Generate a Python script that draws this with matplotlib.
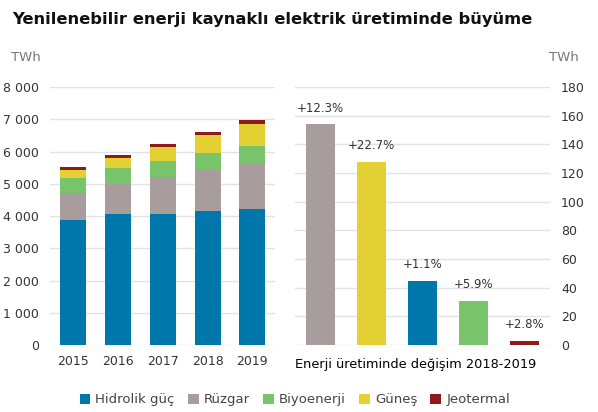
import matplotlib.pyplot as plt
from matplotlib.ticker import FuncFormatter
from matplotlib.patches import Patch

years = ['2015', '2016', '2017', '2018', '2019']
hydro = [3880, 4060, 4070, 4160, 4210]
wind = [820, 930, 1130, 1270, 1410]
bio = [490, 510, 510, 520, 550]
solar = [240, 300, 420, 570, 700]
geo = [80, 80, 90, 80, 100]

sources = ['Hidrolik güç', 'Rüzgar', 'Biyoenerji', 'Güneş', 'Jeotermal']
colors = ['#0077aa', '#a99c9d', '#78c46a', '#e3d033', '#8e1b1b']

# change 2018-2019, drawn in this order
change_order = ['Rüzgar', 'Güneş', 'Hidrolik güç', 'Biyoenerji', 'Jeotermal']
change_twh = [154, 128, 45, 31, 3]
change_pct = ['+12.3%', '+22.7%', '+1.1%', '+5.9%', '+2.8%']

plt.rcParams['font.family'] = ['DejaVu Sans']
text_col = '#333333'
grid_col = '#e3e3e3'

fig = plt.figure(figsize=(5.98, 4.12), dpi=100)

fig.text(0.02, 0.952, 'Yenilenebilir enerji kaynaklı elektrik üretiminde büyüme',
         fontsize=11.75, fontweight='bold', color='#111111', va='center')

# left: stacked bars
ax1 = fig.add_axes([0.0836, 0.1626, 0.376, 0.626])
series = [hydro, wind, bio, solar, geo]
x = range(len(years))
bottom = [0] * len(years)
for vals, col in zip(series, colors):
    ax1.bar(x, vals, 0.58, bottom=bottom, color=col, zorder=3)
    bottom = [b + v for b, v in zip(bottom, vals)]

ax1.set_ylim(0, 8000)
ax1.set_xlim(-0.51, 4.5)
ax1.set_yticks(range(0, 8001, 1000))
ax1.yaxis.set_major_formatter(FuncFormatter(
    lambda v, p: f'{int(v):,}'.replace(',', ' ')))
ax1.set_xticks(list(x))
ax1.set_xticklabels(years)
ax1.grid(axis='y', color=grid_col, linewidth=1, zorder=0)
for s in ax1.spines.values():
    s.set_visible(False)
ax1.tick_params(axis='both', length=0, labelsize=9, colors=text_col)
ax1.tick_params(axis='y', pad=8)
ax1.tick_params(axis='x', pad=7)
fig.text(0.018, 0.86, 'TWh', fontsize=9.5, color='#777777', va='center')

# right: change bars
ax2 = fig.add_axes([0.4933, 0.1626, 0.4264, 0.626])
col_map = dict(zip(sources, colors))
xr = range(len(change_order))
bars = ax2.bar(xr, change_twh, 0.57,
               color=[col_map[n] for n in change_order], zorder=3)
for b, lbl in zip(bars, change_pct):
    ax2.annotate(lbl, (b.get_x() + b.get_width() / 2, b.get_height()),
                 xytext=(0, 7), textcoords='offset points',
                 ha='center', va='bottom', fontsize=8.5, color=text_col)
ax2.set_ylim(0, 180)
ax2.set_xlim(-0.5, 4.5)
ax2.set_yticks(range(0, 181, 20))
ax2.set_xticks([])
ax2.yaxis.tick_right()
ax2.grid(axis='y', color=grid_col, linewidth=1, zorder=0)
for s in ax2.spines.values():
    s.set_visible(False)
ax2.tick_params(axis='y', length=0, labelsize=9, colors=text_col, pad=8)
ax2.set_xlabel('Enerji üretiminde değişim 2018-2019', fontsize=9.3,
               color='#000000', labelpad=9, loc='left')
fig.text(0.918, 0.86, 'TWh', fontsize=9.5, color='#777777', va='center')

handles = [Patch(facecolor=c, edgecolor='none') for c in colors]
fig.legend(handles, sources, loc='center', bbox_to_anchor=(0.493, 0.03),
           ncol=5, frameon=False, fontsize=9.5, handlelength=0.8,
           handleheight=0.8, handletextpad=0.4, columnspacing=1.0,
           labelcolor='#444444')

fig.savefig('out.png', dpi=100)
